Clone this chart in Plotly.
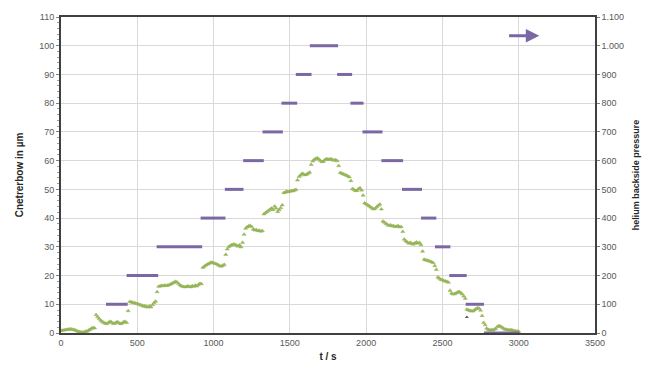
import plotly.graph_objects as go

# ---------------- data ----------------
# centre bow (left axis), sampled every 10 s from 0 to 3000 s
green_t = list(range(0, 3001, 10))
green_v = [
    0.8, 0.9, 1.0, 1.1, 1.2, 1.3, 1.4, 1.3, 1.2, 1.1,
    0.8, 0.6, 0.4, 0.3, 0.2, 0.3, 0.5, 0.6, 0.9, 1.2,
    1.6, 1.8, 1.7, 6.3, 5.6, 5.0, 4.4, 4.0, 3.6, 3.4,
    3.2, 3.6, 4.0, 3.8, 3.4, 3.3, 3.6, 3.9, 3.5, 3.2,
    3.4, 3.8, 4.0, 3.6, 7.7, 10.9, 10.8, 10.6, 10.5, 10.3,
    10.2, 10.0, 9.8, 9.6, 9.3, 9.4, 9.1, 9.0, 9.3, 9.0,
    9.8, 10.5, 11.0, 14.3, 16.2, 16.3, 16.5, 16.4, 16.6, 16.5,
    16.6, 16.8, 17.0, 17.3, 17.6, 17.9, 17.7, 17.2, 16.7, 16.3,
    16.2, 16.0, 16.1, 16.3, 16.2, 16.0, 16.4, 16.2, 16.6, 16.3,
    16.8, 17.2, 17.1, 22.8, 23.2, 23.6, 23.9, 24.2, 24.5, 24.6,
    24.4, 24.2, 24.0, 23.7, 23.4, 23.2, 23.5, 23.8, 27.3, 29.2,
    30.0, 30.4, 30.7, 30.9, 30.8, 30.5, 30.2, 30.6, 29.9, 31.5,
    34.3, 36.4, 36.9, 37.2, 37.4, 37.0, 36.1, 35.8, 35.9, 35.6,
    35.7, 35.4, 35.6, 41.4, 41.8, 42.2, 42.6, 43.0, 43.4, 42.9,
    44.1, 43.4, 42.2, 42.9, 43.6, 44.5, 48.8, 49.0, 49.3, 49.1,
    49.3, 49.5, 49.4, 49.7, 49.9, 53.2, 54.4, 54.9, 55.5, 55.3,
    55.0, 55.2, 55.6, 55.9, 58.6, 59.8, 60.4, 60.7, 60.9, 60.5,
    60.0, 59.6, 59.7, 60.3, 60.6, 60.5, 60.4, 60.6, 60.3, 60.1,
    60.3, 59.9, 58.2, 55.8, 55.6, 55.3, 55.1, 54.9, 54.6, 54.3,
    53.0, 50.2, 49.9, 49.5, 49.6, 50.2, 50.5, 49.7, 47.9, 45.2,
    44.9, 44.6, 44.2, 43.8, 43.4, 43.1, 43.4, 43.9, 44.4, 44.8,
    43.1, 38.9, 38.5, 38.1, 37.7, 37.4, 37.6, 37.2, 37.3, 37.0,
    37.1, 37.3, 36.9, 37.0, 35.3, 32.6, 32.0, 31.6, 31.2, 31.5,
    31.1, 30.9, 31.3, 31.6, 31.2, 31.5, 30.7, 28.4, 25.6, 25.4,
    25.3, 25.1, 24.9, 24.7, 24.4, 23.4, 22.1, 19.4, 19.0, 18.6,
    18.5, 18.2, 18.0, 17.9, 17.6, 14.8, 13.8, 13.5, 13.6, 13.9,
    14.2, 14.4, 14.0, 13.5, 12.8, 12.0, 8.2, 8.0, 7.8, 7.6,
    7.6, 8.0, 8.4, 8.7, 8.6, 7.9, 6.0, 3.6, 2.8, 1.6,
    1.2, 1.0, 1.1, 1.0, 1.3, 1.5, 2.2, 2.5, 2.3, 2.0,
    1.6, 1.3, 1.2, 1.1, 1.0, 1.1, 0.9, 0.8, 0.7, 0.6,
    0.5,
]
outlier_t = [2660]
outlier_v = [5.5]

# helium backside pressure steps (right axis)
step_start = [295, 430, 627, 915, 1074, 1194, 1321, 1445, 1539, 1631,
              1810, 1897, 1976, 2100, 2235, 2360, 2451, 2545, 2652, 2772]
step_end = [437, 637, 925, 1078, 1196, 1329, 1454, 1548, 1642, 1816,
            1908, 1983, 2107, 2242, 2366, 2460, 2552, 2659, 2772, 3006]
step_level = [100, 200, 300, 400, 500, 600, 700, 800, 900, 1000,
              900, 800, 700, 600, 500, 400, 300, 200, 100, 0]

x_ticks = [0, 500, 1000, 1500, 2000, 2500, 3000, 3500]
arrow_from = (2927, 1035)
arrow_to = (3135, 1035)

GREEN = "#9bbb59"
PURPLE = "#7b67a3"
TXT = "#595959"
FONT = "Liberation Sans"

# ---------------- figure ----------------
px_, py_ = [], []
for s, e, lv in zip(step_start, step_end, step_level):
    px_ += [s, e, None]
    py_ += [lv, lv, None]

fig = go.Figure()
fig.add_trace(go.Scatter(
    x=green_t, y=green_v, mode="markers",
    marker=dict(symbol="triangle-up", size=3.6, color=GREEN,
                line=dict(width=0.4, color="#8aa84c")),
    yaxis="y", showlegend=False))
fig.add_trace(go.Scatter(
    x=outlier_t, y=outlier_v, mode="markers",
    marker=dict(symbol="triangle-up", size=3.6, color="#5a5a5a"),
    yaxis="y", showlegend=False))
fig.add_trace(go.Scatter(
    x=px_, y=py_, mode="lines",
    line=dict(color=PURPLE, width=3),
    yaxis="y2", showlegend=False))

fig.add_annotation(
    x=arrow_to[0], y=arrow_to[1], ax=arrow_from[0], ay=arrow_from[1],
    xref="x", yref="y2", axref="x", ayref="y2",
    showarrow=True, arrowhead=2, arrowsize=0.9, arrowwidth=3,
    arrowcolor=PURPLE, text="")

fig.update_layout(
    width=652, height=373,
    margin=dict(l=61, r=56, t=14, b=34),
    paper_bgcolor="white", plot_bgcolor="white",
    separators=",.",
    font=dict(family=FONT, size=9, color=TXT),
    xaxis=dict(
        range=[0, 3500], tickvals=x_ticks, tickformat="d",
        showgrid=True, gridcolor="#d9d9d9", gridwidth=1,
        showline=True, linecolor="#404040", linewidth=2, mirror=True,
        ticks="", zeroline=False,
        title=dict(text="<b>t / s</b>", font=dict(size=10, color="#262626"),
                   standoff=6),
        tickfont=dict(size=9, color=TXT),
    ),
    yaxis=dict(
        range=[0, 110], dtick=10, tickformat="d",
        showgrid=True, gridcolor="#d9d9d9", gridwidth=1,
        showline=True, linecolor="#404040", linewidth=2, mirror=True,
        ticks="outside", ticklen=3, tickcolor="#808080",
        minor=dict(dtick=2, ticks="outside", ticklen=2, tickcolor="#a0a0a0",
                   showgrid=False),
        zeroline=False,
        title=dict(text="<b>Cnetrerbow in µm</b>",
                   font=dict(size=10, color="#262626"), standoff=14),
        tickfont=dict(size=9, color=TXT),
    ),
    yaxis2=dict(
        range=[0, 1100], dtick=100, tickformat=",d",
        overlaying="y", side="right", showgrid=False,
        showline=True, linecolor="#404040", linewidth=1.5,
        ticks="outside", ticklen=3, tickcolor="#808080", zeroline=False,
        title=dict(text="<b>helium backside pressure</b>",
                   font=dict(size=9, color="#262626"), standoff=10),
        tickfont=dict(size=9, color=TXT),
    ),
)

fig.write_html("out.html")
